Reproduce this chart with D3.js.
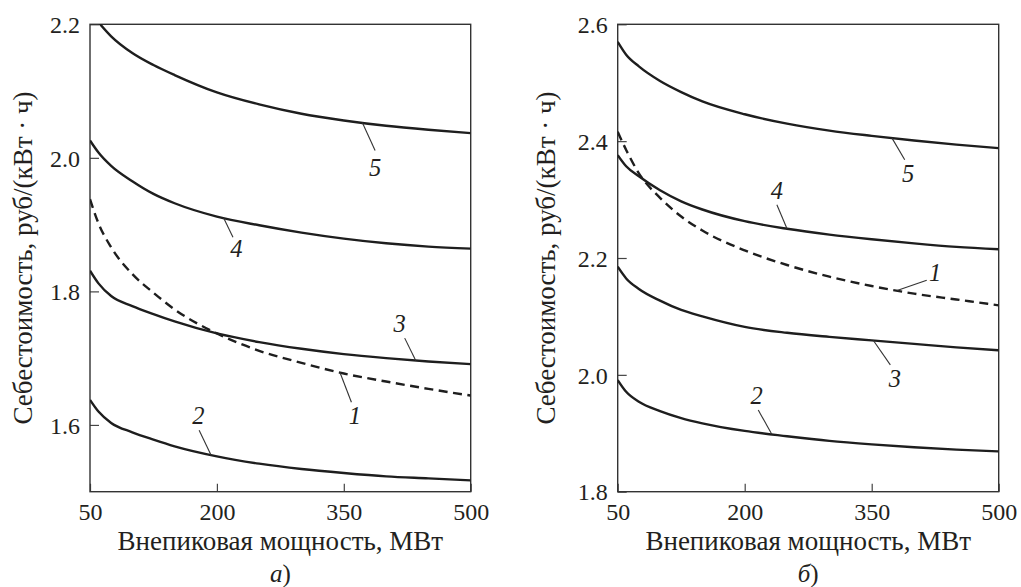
<!DOCTYPE html>
<html>
<head>
<meta charset="utf-8">
<script src="https://cdn.jsdelivr.net/npm/d3@7"></script>
<style>
  body { margin: 0; background: #fff; }
  svg { display: block; }
</style>
</head>
<body>
<svg id="chart" width="1021" height="587"></svg>
<script>
// Off-peak capacity, MW (shared x grid for all curves)
const capacity = [50, 60, 75, 100, 125, 150, 200, 250, 300, 350, 400, 450, 500];
const xTicks = [50, 200, 350, 500];

// Panel а) — cost, rub/(kWh)
const a1 = [1.938, 1.902, 1.866, 1.826, 1.798, 1.773, 1.737, 1.711, 1.693, 1.677, 1.665, 1.654, 1.644];
const a2 = [1.6375, 1.620, 1.603, 1.589, 1.578, 1.568, 1.553, 1.542, 1.534, 1.528, 1.523, 1.520, 1.517];
const a3 = [1.831, 1.812, 1.793, 1.778, 1.766, 1.755, 1.737, 1.724, 1.714, 1.706, 1.700, 1.695, 1.691];
const a4 = [2.026, 2.008, 1.988, 1.965, 1.946, 1.932, 1.912, 1.899, 1.888, 1.879, 1.872, 1.867, 1.864];
const a5 = [2.218, 2.203, 2.182, 2.157, 2.139, 2.124, 2.098, 2.080, 2.066, 2.056, 2.048, 2.042, 2.037];
const yTicksA = [1.6, 1.8, 2.0, 2.2];

// Panel б) — cost, rub/(kWh)
const b1 = [2.416, 2.385, 2.345, 2.303, 2.271, 2.247, 2.213, 2.188, 2.168, 2.152, 2.139, 2.129, 2.119];
const b2 = [1.991, 1.971, 1.954, 1.938, 1.926, 1.917, 1.904, 1.895, 1.887, 1.881, 1.876, 1.872, 1.869];
const b3 = [2.185, 2.165, 2.147, 2.127, 2.111, 2.100, 2.082, 2.072, 2.065, 2.059, 2.053, 2.047, 2.042];
const b4 = [2.376, 2.357, 2.340, 2.316, 2.297, 2.283, 2.263, 2.250, 2.240, 2.232, 2.225, 2.219, 2.215];
const b5 = [2.570, 2.548, 2.528, 2.503, 2.484, 2.468, 2.446, 2.430, 2.418, 2.409, 2.401, 2.394, 2.388];
const yTicksB = [1.8, 2.0, 2.2, 2.4, 2.6];

const xTitle = "Внепиковая мощность, МВт";
const yTitle = "Себестоимость, руб/(кВт · ч)";

const svg = d3.select("#chart");
const INK = "#231f20";
const FONT = "'Liberation Serif', 'Times New Roman', serif";

// every text gets the serif face and ink colour inline
function styleText(sel, size, italic) {
  return sel.style("font-family", FONT).style("font-size", size + "px")
    .style("fill", INK).style("font-style", italic ? "italic" : "normal");
}

// curve label callouts: curve id, x on curve, leader end (x, y), label centre (x, y)
const panels = [
  {
    left: 90, right: 470.7, yDomain: [1.5, 2.2], yTicks: yTicksA, letter: "а", titleX: 32,
    series: { "1": a1, "2": a2, "3": a3, "4": a4, "5": a5 },
    notes: [
      { id: "5", cx: 372, ex: 387, ev: 2.011, tx: 387, tv: 1.986 },
      { id: "4", cx: 208, ex: 219, ev: 1.881, tx: 223, tv: 1.864 },
      { id: "3", cx: 435, ex: 422, ev: 1.730, tx: 416, tv: 1.752 },
      { id: "1", cx: 345.5, ex: 359, ev: 1.634, tx: 363, tv: 1.614 },
      { id: "2", cx: 193, ex: 179, ev: 1.592, tx: 178, tv: 1.614 }
    ]
  },
  {
    left: 617.7, right: 998.7, yDomain: [1.8, 2.6], yTicks: yTicksB, letter: "б", titleX: 555,
    series: { "1": b1, "2": b2, "3": b3, "4": b4, "5": b5 },
    notes: [
      { id: "5", cx: 374, ex: 389, ev: 2.368, tx: 393, tv: 2.345 },
      { id: "4", cx: 250, ex: 238, ev: 2.291, tx: 238, tv: 2.316 },
      { id: "1", cx: 380, ex: 415, ev: 2.162, tx: 425, tv: 2.176 },
      { id: "3", cx: 352, ex: 372, ev: 2.017, tx: 377.5, tv: 1.994 },
      { id: "2", cx: 232, ex: 216, ev: 1.940, tx: 214, tv: 1.965 }
    ]
  }
];

const plotTop = 24.3, plotBottom = 491.7;

// linear interpolation of a series at an arbitrary capacity
function valueAt(vals, x) {
  const i = Math.max(1, Math.min(capacity.length - 1, d3.bisectLeft(capacity, x)));
  const x0 = capacity[i - 1], x1 = capacity[i];
  const t = (x - x0) / (x1 - x0);
  return vals[i - 1] + t * (vals[i] - vals[i - 1]);
}

panels.forEach((p, k) => {
  const x = d3.scaleLinear().domain([50, 500]).range([p.left, p.right]);
  const y = d3.scaleLinear().domain(p.yDomain).range([plotBottom, plotTop]);
  const g = svg.append("g");

  const clipId = "clip" + k;
  svg.append("clipPath").attr("id", clipId)
    .append("rect").attr("x", p.left).attr("y", plotTop)
    .attr("width", p.right - p.left).attr("height", plotBottom - plotTop);

  // axes with inward ticks
  const yAxis = d3.axisLeft(y).tickValues(p.yTicks).tickSizeInner(-9).tickSizeOuter(0)
    .tickPadding(10).tickFormat(d3.format(".1f"));
  const gy = g.append("g").attr("transform", `translate(${p.left},0)`).call(yAxis);
  gy.select(".domain").remove();
  gy.selectAll("line").attr("stroke", "#444").attr("stroke-width", 1.2);
  styleText(gy.selectAll("text"), 24).attr("dy", "0.34em");

  const xAxis = d3.axisBottom(x).tickValues(xTicks).tickSizeInner(-8).tickSizeOuter(0)
    .tickPadding(0).tickFormat(d3.format("d"));
  const gx = g.append("g").attr("transform", `translate(0,${plotBottom})`).call(xAxis);
  gx.select(".domain").remove();
  gx.selectAll("line").attr("stroke", "#444").attr("stroke-width", 1.2);
  styleText(gx.selectAll("text"), 24).attr("y", 28.5).attr("dy", 0);

  // frame
  g.append("rect").attr("x", p.left).attr("y", plotTop)
    .attr("width", p.right - p.left).attr("height", plotBottom - plotTop)
    .attr("fill", "none").attr("stroke", "#333").attr("stroke-width", 1.4);

  // curves
  const line = d3.line().x((d, i) => x(capacity[i])).y(d => y(d)).curve(d3.curveMonotoneX);
  const cg = g.append("g").attr("clip-path", `url(#${clipId})`);
  Object.entries(p.series).forEach(([id, vals]) => {
    cg.append("path").datum(vals)
      .attr("d", line)
      .attr("fill", "none")
      .attr("stroke", "#1e1e1e")
      .attr("stroke-width", 2.4)
      .attr("stroke-dasharray", id === "1" ? "9,5.5" : null);
  });

  // callouts
  p.notes.forEach(n => {
    const cv = valueAt(p.series[n.id], n.cx);
    g.append("line")
      .attr("x1", x(n.cx)).attr("y1", y(cv))
      .attr("x2", x(n.ex)).attr("y2", y(n.ev))
      .attr("stroke", "#333").attr("stroke-width", 1.1);
    styleText(g.append("text"), 24.5, true)
      .attr("x", x(n.tx)).attr("y", y(n.tv)).attr("dy", "0.35em")
      .attr("text-anchor", "middle")
      .text(n.id);
  });

  // axis titles
  styleText(g.append("text"), 27)
    .attr("x", (p.left + p.right) / 2).attr("y", 550)
    .attr("text-anchor", "middle")
    .text(xTitle);
  styleText(g.append("text"), 27)
    .attr("transform", `translate(${p.titleX},${(plotTop + plotBottom) / 2}) rotate(-90)`)
    .attr("text-anchor", "middle")
    .text(yTitle);

  // panel caption
  const cap = styleText(g.append("text"), 25)
    .attr("x", (p.left + p.right) / 2).attr("y", 582)
    .attr("text-anchor", "middle");
  cap.append("tspan").style("font-style", "italic").text(p.letter);
  cap.append("tspan").text(")");
});
</script>
</body>
</html>
